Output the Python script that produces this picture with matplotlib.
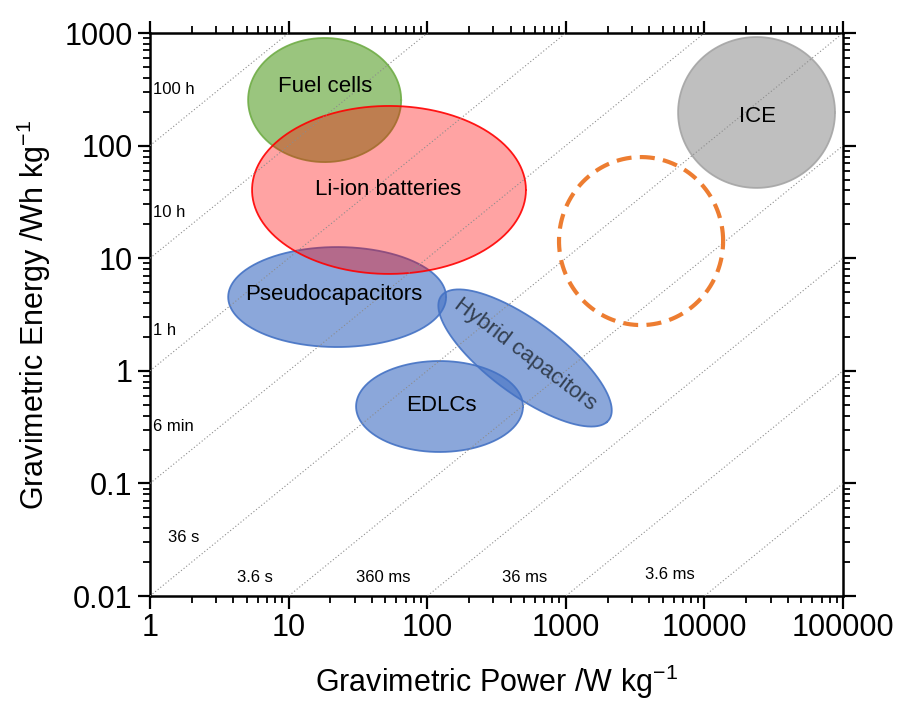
import numpy as np
import matplotlib
matplotlib.use("Agg")
import matplotlib.pyplot as plt
from matplotlib.ticker import LogLocator, FuncFormatter, NullFormatter

plt.rcParams['font.family'] = ['Liberation Sans', 'DejaVu Sans']

# regions on the Ragone plot: centre (W/kg, Wh/kg), half size in decades, tilt in log space
names = ["Pseudocapacitors", "EDLCs", "Hybrid capacitors", "Fuel cells", "Li-ion batteries", "ICE", ""]
power_c = [22.4, 122.7, 508, 18.2, 53, 23770, 3490]
energy_c = [4.52, 0.482, 1.30, 254, 40.4, 197, 14.2]
half_w = [0.786, 0.602, 0.82, 0.552, 0.988, 0.566, 0.592]
half_h = [0.444, 0.404, 0.30, 0.551, 0.746, 0.670, 0.746]
tilt = [0, 0, -44, 0, 0, 0, 0]

# where the region names sit
name_p = [21.0, 126, 505, 18.2, 52, 24000, 3490]
name_e = [4.75, 0.49, 1.40, 338, 40.4, 182, 14.2]
name_rot = [0, 0, -37, 0, 0, 0, 0]
name_col = ['black', 'black', '#333F50', 'black', 'black', 'black', 'black']

# constant discharge time lines, E = P * t (t in h)
hours = [100, 10, 1, 0.1, 0.01, 1e-3, 1e-4, 1e-5, 1e-6]
time_labels = ["100 h", "10 h", "1 h", "6 min", "36 s", "3.6 s", "360 ms", "36 ms", "3.6 ms"]
time_lab_p = [1.05, 1.05, 1.05, 1.05, 1.35, 5.7, 48, 508, 5650]
time_lab_e = [312, 25.7, 2.3, 0.317, 0.0334, 0.0147, 0.0147, 0.0147, 0.0155]

face = ['#4472C4', '#4472C4', '#4472C4', '#70AD47', '#FF0000', '#BFBFBF', 'none']
face_alpha = [0.62, 0.62, 0.62, 0.7, 0.36, 1.0, 0]
edge = ['#4472C4', '#4472C4', '#4472C4', '#70AD47', '#FF0000', '#A5A5A5', '#ED7D31']

fig = plt.figure(figsize=(9.03, 7.04), dpi=100)
ax = fig.add_axes([0.1661, 0.1534, 0.7675, 0.7997])
ax.set_xscale('log')
ax.set_yscale('log')
ax.set_xlim(1, 1e5)
ax.set_ylim(0.01, 1000)

# time lines
pp = np.logspace(0, 5, 200)
for t in hours:
    ax.plot(pp, pp * t, color='#8c8c8c', lw=0.8, ls=(0, (1, 2)), zorder=5)

tt = np.linspace(0, 2 * np.pi, 400)
for i in range(len(names)):
    a = np.radians(tilt[i])
    lx = np.log10(power_c[i]) + half_w[i] * np.cos(tt) * np.cos(a) - half_h[i] * np.sin(tt) * np.sin(a)
    ly = np.log10(energy_c[i]) + half_w[i] * np.cos(tt) * np.sin(a) + half_h[i] * np.sin(tt) * np.cos(a)
    if names[i] == "":
        ax.plot(10 ** lx, 10 ** ly, color=edge[i], lw=3, ls=(0, (3.6, 2.0)), zorder=6)
    else:
        ax.fill(10 ** lx, 10 ** ly, facecolor=face[i], alpha=face_alpha[i], edgecolor='none', zorder=2 + i * 0.1)
        ax.plot(10 ** lx, 10 ** ly, color=edge[i], lw=1.3, alpha=0.9, zorder=2 + i * 0.1)
        ax.text(name_p[i], name_e[i], names[i], fontsize=16, rotation=name_rot[i], color=name_col[i],
                ha='center', va='center', rotation_mode='anchor', zorder=7)

for i in range(len(time_labels)):
    ha = 'left' if i < 5 else 'center'
    ax.text(time_lab_p[i], time_lab_e[i], time_labels[i], fontsize=12, ha=ha, va='center', zorder=7)

for ln in [ax.xaxis, ax.yaxis]:
    ln.set_major_locator(LogLocator(base=10, numticks=10))
    ln.set_minor_locator(LogLocator(base=10, subs=np.arange(2, 10), numticks=20))
    ln.set_major_formatter(FuncFormatter(lambda v, p: '%g' % v))
    ln.set_minor_formatter(NullFormatter())

ax.tick_params(which='both', direction='out', top=True, right=True,
               labeltop=False, labelright=False, labelsize=22)
ax.tick_params(which='major', length=9, width=1.6)
ax.tick_params(which='minor', length=5, width=1.3)
for s in ax.spines.values():
    s.set_linewidth(1.8)

ax.set_xlabel("Gravimetric Power /W kg$^{\\mathregular{-1}}$", fontsize=22, labelpad=14)
ax.set_ylabel("Gravimetric Energy /Wh kg$^{\\mathregular{-1}}$", fontsize=22, labelpad=8)

fig.savefig("out.png", dpi=100)
